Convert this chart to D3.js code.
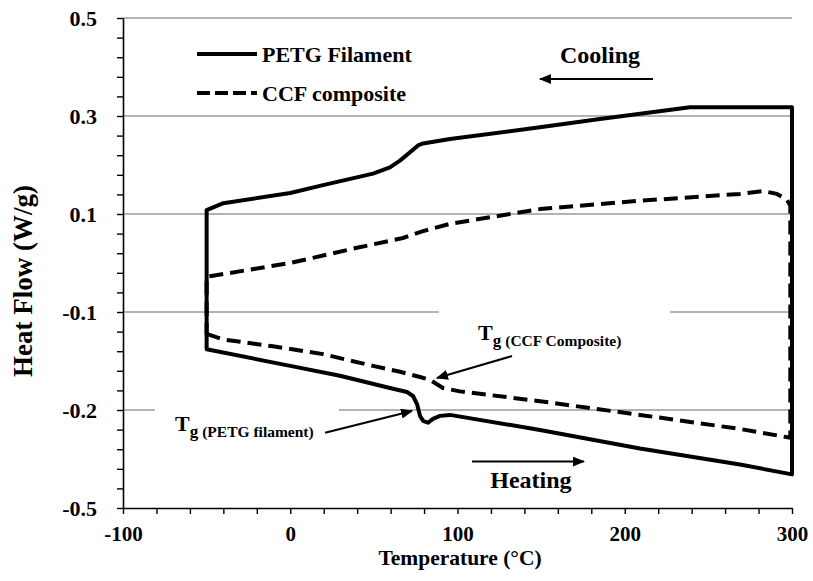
<!DOCTYPE html>
<html>
<head>
<meta charset="utf-8">
<script src="https://cdn.jsdelivr.net/npm/d3@7"></script>
<style>
  body { margin: 0; background: #fff; }
  text { font-family: "Liberation Serif", "Times New Roman", serif; font-weight: bold; fill: #000; }
</style>
</head>
<body>
<svg id="chart" width="813" height="581"></svg>
<script>
// ---- DSC heat-flow data (temperature in °C, heat flow in W/g) ----
// PETG filament, cooling branch (300 → -50 °C)
const petgCoolT = [300, 239, 185.2, 149.3, 95.5, 79.4, 76.4, 71.6, 65.6, 59.6, 49.5, 19.6, 0, -40, -50];
const petgCoolQ = [0.318, 0.318, 0.294, 0.277, 0.253, 0.244, 0.240, 0.226, 0.209, 0.195, 0.1825, 0.159, 0.143, 0.122, 0.108];
// PETG filament, heating branch (-50 → 300 °C)
const petgHeatT = [-50, 0, 29.7, 59.6, 69.8, 73.4, 75.8, 77.6, 79.4, 82.4, 85.3, 89.5, 95.5, 149.3, 209.1, 268.9, 300];
const petgHeatQ = [-0.138, -0.155, -0.165, -0.1776, -0.1816, -0.1857, -0.1939, -0.218, -0.233, -0.239, -0.227, -0.218, -0.215, -0.261, -0.318, -0.367, -0.397];
// CCF composite, cooling branch (300 → -50 °C)
const ccfCoolT = [299, 297, 291, 282.6, 268.9, 209.1, 149.3, 95.5, 79.4, 67.4, 39.9, 0, -48, -50];
const ccfCoolQ = [0.117, 0.129, 0.141, 0.147, 0.141, 0.127, 0.110, 0.080, 0.065, 0.051, 0.031, 0.000, -0.027, -0.028];
// CCF composite, heating branch (-50 → 300 °C)
const ccfHeatT = [-50, -40.2, -10.3, 19.6, 49.5, 65.6, 77.6, 83.6, 91.3, 101.5, 149.3, 209.1, 268.9, 299];
const ccfHeatQ = [-0.1224, -0.128, -0.135, -0.143, -0.155, -0.161, -0.1663, -0.1694, -0.1776, -0.181, -0.191, -0.215, -0.258, -0.285];

// ---- axis ticks ----
const xTickValues = [-100, 0, 100, 200, 300];
const xTickLabels = ["-100", "0", "100", "200", "300"];
const yTickValues = [-0.5, -0.2, -0.1, 0.1, 0.3, 0.5];
const yTickLabels = ["-0.5", "-0.2", "-0.1", "0.1", "0.3", "0.5"];

// ---- layout ----
const W = 813, H = 581;
const margin = { top: 18, right: 21, bottom: 73, left: 123 };
const plotW = W - margin.left - margin.right;
const plotH = H - margin.top - margin.bottom;

const svg = d3.select("#chart");

const x = d3.scaleLinear().domain([-100, 300]).range([margin.left, margin.left + plotW]);
// the heat-flow axis is piecewise: every labelled value sits an equal distance apart
const y = d3.scaleLinear()
  .domain(yTickValues)
  .range(yTickValues.map((d, i) => margin.top + plotH - i * plotH / (yTickValues.length - 1)));

// minor ticks: five subdivisions between labelled values
const xMinor = d3.range(-100, 300.1, 20);
const yMinor = [];
for (let i = 0; i < yTickValues.length - 1; i++) {
  const a = yTickValues[i], b = yTickValues[i + 1];
  for (let k = 0; k < 5; k++) yMinor.push(a + (b - a) * k / 5);
}
yMinor.push(yTickValues[yTickValues.length - 1]);

// ---- gridlines ----
svg.append("g").selectAll("line")
  .data(yTickValues.filter(v => v !== -0.5))
  .join("line")
  .attr("x1", margin.left).attr("x2", margin.left + plotW)
  .attr("y1", d => y(d)).attr("y2", d => y(d))
  .attr("stroke", "#9a9a9a").attr("stroke-width", 1.3);

// white boxes behind the Tg annotations (they break the gridlines)
const boxes = [
  { x0: -80.9, x1: 29.1, y0: -0.195, y1: -0.33 },
  { x0: 88.9, x1: 227.1, y0: -0.093, y1: -0.138 }
];
svg.append("g").selectAll("rect")
  .data(boxes)
  .join("rect")
  .attr("x", d => x(d.x0)).attr("width", d => x(d.x1) - x(d.x0))
  .attr("y", d => y(d.y0)).attr("height", d => y(d.y1) - y(d.y0))
  .attr("fill", "#fff");

// ---- axes ----
const font = "'Liberation Serif','Times New Roman',serif";

const xAxis = svg.append("g")
  .attr("transform", `translate(0,${margin.top + plotH})`)
  .call(d3.axisBottom(x).tickValues(xMinor).tickFormat("").tickSize(6).tickSizeOuter(0));
xAxis.select(".domain").attr("stroke-width", 1.6);
xAxis.selectAll(".tick line").attr("stroke-width", 1.4);

const xLab = svg.append("g")
  .attr("transform", `translate(0,${margin.top + plotH})`)
  .call(d3.axisBottom(x).tickValues(xTickValues).tickFormat((d, i) => xTickLabels[i]).tickSize(0).tickPadding(0));
xLab.select(".domain").remove();
xLab.selectAll("text").attr("font-family", font).attr("font-weight", "bold")
  .attr("font-size", 21).attr("dy", null).attr("y", 33);

const yAxis = svg.append("g")
  .attr("transform", `translate(${margin.left},0)`)
  .call(d3.axisLeft(y).tickValues(yMinor).tickFormat("").tickSize(6).tickSizeOuter(0));
yAxis.select(".domain").attr("stroke-width", 1.6);
yAxis.selectAll(".tick line").attr("stroke-width", 1.4);

const yLab = svg.append("g")
  .attr("transform", `translate(${margin.left},0)`)
  .call(d3.axisLeft(y).tickValues(yTickValues).tickFormat((d, i) => yTickLabels[i]).tickSize(0).tickPadding(26));
yLab.select(".domain").remove();
yLab.selectAll("text").attr("font-family", font).attr("font-weight", "bold")
  .attr("font-size", 22).attr("dy", "0.34em");

// axis titles
svg.append("text")
  .attr("x", 460).attr("y", 565)
  .attr("text-anchor", "middle").attr("font-size", 21.5)
  .text("Temperature (°C)");
svg.append("text")
  .attr("transform", "translate(32,281) rotate(-90)")
  .attr("text-anchor", "middle").attr("font-size", 27)
  .text("Heat Flow (W/g)");

// ---- curves ----
const zip = (T, Q) => T.map((t, i) => [t, Q[i]]);
const line = d3.line().x(d => x(d[0])).y(d => y(d[1]));

const petgLoop = zip(petgHeatT, petgHeatQ).concat(zip(petgCoolT, petgCoolQ));
const ccfLoop = zip(ccfHeatT, ccfHeatQ).concat(zip(ccfCoolT, ccfCoolQ));

svg.append("path")
  .attr("d", line(ccfLoop) + "Z")
  .attr("fill", "none").attr("stroke", "#000").attr("stroke-width", 4)
  .attr("stroke-dasharray", "14,7").attr("stroke-linejoin", "round");

svg.append("path")
  .attr("d", line(petgLoop) + "Z")
  .attr("fill", "none").attr("stroke", "#000").attr("stroke-width", 4)
  .attr("stroke-linejoin", "round");

// ---- legend ----
const legend = svg.append("g");
const legendItems = [
  { label: "PETG Filament", dash: null, y: 54 },
  { label: "CCF composite", dash: "13,5", y: 93 }
];
legendItems.forEach(it => {
  legend.append("line")
    .attr("x1", 197).attr("x2", 257).attr("y1", it.y).attr("y2", it.y)
    .attr("stroke", "#000").attr("stroke-width", 4)
    .attr("stroke-dasharray", it.dash);
  legend.append("text")
    .attr("x", 262).attr("y", it.y + 8)
    .attr("font-size", 22)
    .text(it.label);
});

// ---- arrow marker ----
svg.append("defs").append("marker")
  .attr("id", "head")
  .attr("viewBox", "0 0 12 10")
  .attr("refX", 11).attr("refY", 5)
  .attr("markerWidth", 12).attr("markerHeight", 10)
  .attr("markerUnits", "userSpaceOnUse")
  .attr("orient", "auto")
  .append("path").attr("d", "M0,0 L12,5 L0,10 Z").attr("fill", "#000");

const arrows = [
  { t0: 216.9, q0: 0.3755, t1: 149.3, q1: 0.3755 },   // cooling direction
  { t0: 108.7, q0: -0.358, t1: 175.6, q1: -0.358 },   // heating direction
  { t0: 132.6, q0: -0.1449, t1: 87.7, q1: -0.1673 },  // Tg of the composite
  { t0: 20.8, q0: -0.2697, t1: 72.8, q1: -0.203 }     // Tg of the filament
];
svg.append("g").selectAll("line")
  .data(arrows)
  .join("line")
  .attr("x1", d => x(d.t0)).attr("y1", d => y(d.q0))
  .attr("x2", d => x(d.t1)).attr("y2", d => y(d.q1))
  .attr("stroke", "#000").attr("stroke-width", 2)
  .attr("marker-end", "url(#head)");

// ---- direction labels ----
svg.append("text")
  .attr("x", x(185.2)).attr("y", y(0.408))
  .attr("text-anchor", "middle").attr("font-size", 24)
  .text("Cooling");
svg.append("text")
  .attr("x", x(143.9)).attr("y", y(-0.439))
  .attr("text-anchor", "middle").attr("font-size", 24)
  .text("Heating");

// ---- Tg labels ----
function tgLabel(t, q, sub) {
  const tx = svg.append("text").attr("x", x(t)).attr("y", y(q));
  tx.append("tspan").attr("font-size", 22).text("T");
  tx.append("tspan").attr("font-size", 17).attr("dy", 6).text("g");
  tx.append("tspan").attr("font-size", 15.5).attr("dx", 4).text(sub);
}
tgLabel(112.3, -0.1286, "(CCF Composite)");
tgLabel(-68.9, -0.2636, "(PETG filament)");
</script>
</body>
</html>
